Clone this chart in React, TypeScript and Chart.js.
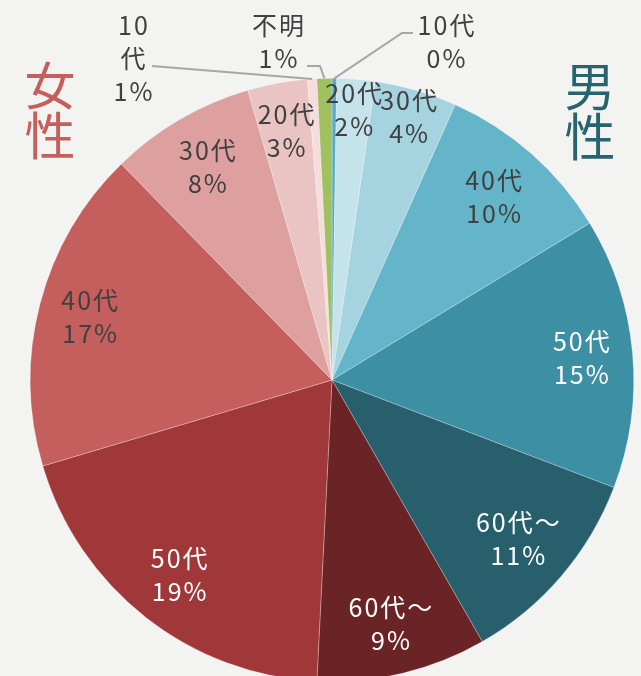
import React, { useEffect, useRef } from "react";
import { Chart, registerables } from "chart.js";

Chart.register(...registerables);

// ---- data (clockwise from 12 o'clock) ----
const ageLabels = ["10代", "20代", "30代", "40代", "50代", "60代～", "60代～", "50代", "40代", "30代", "20代", "10代", "不明"];
const genders = ["男性", "男性", "男性", "男性", "男性", "男性", "女性", "女性", "女性", "女性", "女性", "女性", "不明"];
const shares = [0.25, 2.05, 4.4, 9.6, 14.5, 10.9, 9.1, 19.6, 17.3, 7.8, 3.2, 0.5, 0.8];
const percentLabels = ["0%", "2%", "4%", "10%", "15%", "11%", "9%", "19%", "17%", "8%", "3%", "1%", "1%"];

// ---- styles ----
const sliceColors = [
  "#58abc2", "#c4e3eb", "#a5d3e0", "#64b5c9", "#3d8fa3", "#27606c",
  "#6b2426", "#a03839", "#c55f5e", "#de9f9f", "#eac3c3", "#f5dddd", "#a1c161",
];
const textColors = [
  "#404040", "#404040", "#404040", "#404040", "#ffffff", "#ffffff",
  "#ffffff", "#ffffff", "#404040", "#404040", "#404040", "#404040", "#404040",
];
// radial factor for inside labels (null => outside label with leader)
const labelRadius: (number | null)[] = [null, 0.9, 0.91, 0.81, 0.83, 0.81, 0.83, 0.82, 0.83, 0.82, 0.84, null, null];
// outside label geometry, relative to pie centre
const outside: Record<number, { path: [number, number][]; lines: [string, number, number][] }> = {
  0: { path: [[70, -347], [81, -347]], lines: [["10代", 114, -355], ["0%", 114, -322]] },
  12: { path: [[-12, -314], [-25, -314]], lines: [["不明", -54, -355], ["1%", -54, -322]] },
  11: { path: [[-180, -314]], lines: [["10", -199, -355], ["代", -199, -322], ["1%", -199, -289]] },
};
const FONT = '"Noto Sans CJK JP", "Noto Sans", sans-serif';
const BG = "#f3f3f1";

function drawText(ctx: CanvasRenderingContext2D, text: string, x: number, y: number, spacing: number) {
  (ctx as any).letterSpacing = spacing + "px";
  const w = ctx.measureText(text).width - spacing;
  ctx.textAlign = "left";
  ctx.fillText(text, x - w / 2, y);
}

const labelPlugin = {
  id: "sliceLabels",
  beforeDraw(chart: any) {
    const ctx = chart.ctx;
    ctx.save();
    ctx.fillStyle = BG;
    ctx.fillRect(0, 0, chart.width, chart.height);
    ctx.restore();
  },
  afterDatasetsDraw(chart: any) {
    const ctx: CanvasRenderingContext2D = chart.ctx;
    const meta = chart.getDatasetMeta(0);
    ctx.save();
    ctx.textBaseline = "middle";
    let cx = 0, cy = 0;
    meta.data.forEach((arc: any, i: number) => {
      const p = arc.getProps(["x", "y", "startAngle", "endAngle", "outerRadius"], true);
      cx = p.x; cy = p.y;
      const mid = (p.startAngle + p.endAngle) / 2;
      const f = labelRadius[i];
      ctx.font = `400 25px ${FONT}`;
      if (f !== null) {
        const lx = p.x + Math.cos(mid) * p.outerRadius * f;
        const ly = p.y + Math.sin(mid) * p.outerRadius * f;
        ctx.fillStyle = textColors[i];
        drawText(ctx, ageLabels[i], lx, ly - 16, 2);
        drawText(ctx, percentLabels[i], lx, ly + 17, 2);
      } else {
        const o = outside[i];
        const sx = p.x + Math.cos(mid) * p.outerRadius;
        const sy = p.y + Math.sin(mid) * p.outerRadius;
        ctx.strokeStyle = "#a6a6a6";
        ctx.lineWidth = 2;
        ctx.beginPath();
        ctx.moveTo(sx, sy);
        o.path.forEach(([dx, dy]) => ctx.lineTo(p.x + dx, p.y + dy));
        ctx.stroke();
        ctx.fillStyle = textColors[i];
        o.lines.forEach(([t, dx, dy]) => drawText(ctx, t, p.x + dx, p.y + dy, 2));
      }
    });
    // gender captions
    ctx.font = `400 51px ${FONT}`;
    ctx.fillStyle = "#c55f5e";
    drawText(ctx, "女", cx - 282, cy - 294, 0);
    drawText(ctx, "性", cx - 282, cy - 244, 0);
    ctx.fillStyle = "#286470";
    drawText(ctx, "男", cx + 258, cy - 293, 0);
    drawText(ctx, "性", cx + 258, cy - 243, 0);
    ctx.restore();
  },
};

export default function App() {
  const ref = useRef<HTMLCanvasElement | null>(null);
  useEffect(() => {
    document.body.style.margin = "0";
    document.body.style.background = BG;
    document.body.style.overflow = "hidden";
    const chart = new Chart(ref.current!, {
      type: "pie",
      data: {
        labels: ageLabels.map((a, i) => `${genders[i]} ${a}`),
        datasets: [
          {
            data: shares,
            backgroundColor: sliceColors,
            borderColor: "rgba(255,255,255,0.45)",
            borderWidth: 0.6,
          },
        ],
      },
      options: {
        responsive: false,
        animation: false,
        devicePixelRatio: 1,
        events: [],
        layout: { padding: { left: 30, right: 7, top: 78, bottom: 8 } },
        plugins: { legend: { display: false }, tooltip: { enabled: false } },
      },
      plugins: [labelPlugin],
    });
    return () => chart.destroy();
  }, []);
  return (
    <div style={{ width: 641, height: 676, overflow: "hidden", background: BG }}>
      <canvas ref={ref} width={641} height={690} style={{ display: "block" }} />
    </div>
  );
}
